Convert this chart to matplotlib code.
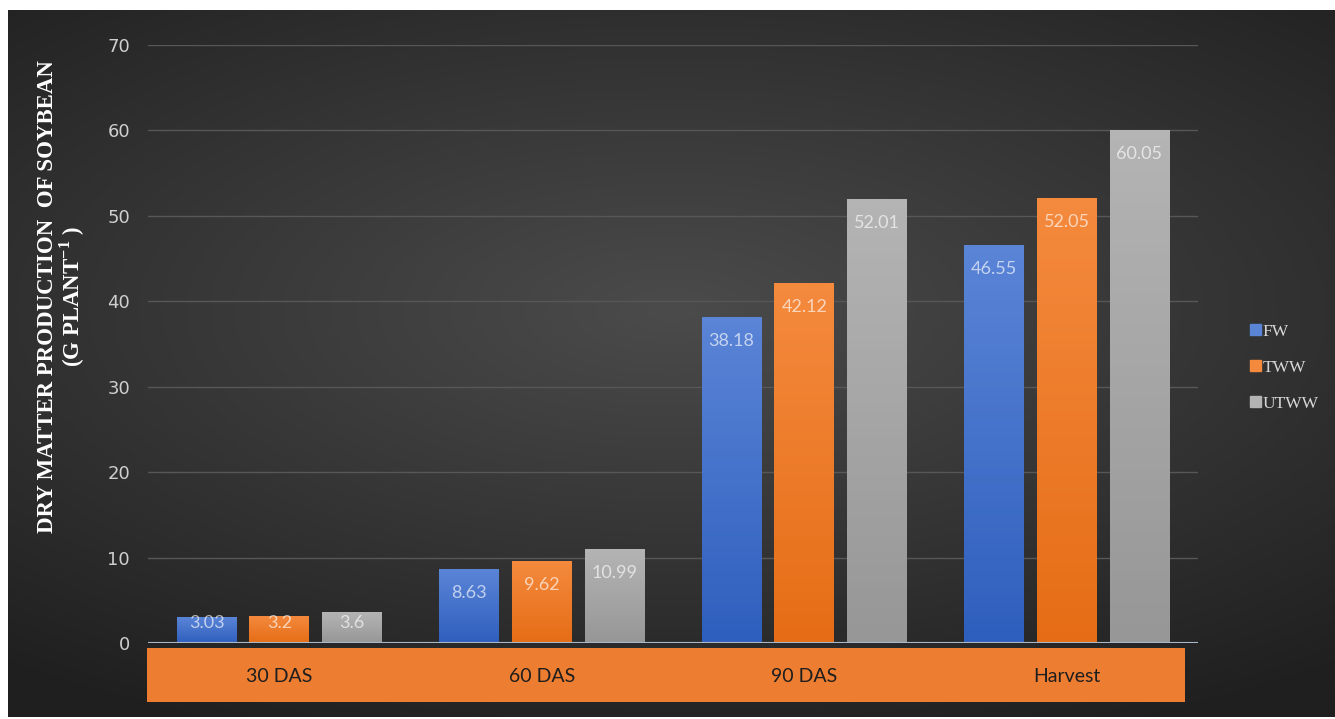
import numpy as np
import matplotlib
matplotlib.use("Agg")
import matplotlib.pyplot as plt
from matplotlib.colors import LinearSegmentedColormap

plt.rcParams["mathtext.fontset"] = "custom"
plt.rcParams["mathtext.rm"] = "Liberation Serif:bold"
plt.rcParams["mathtext.bf"] = "Liberation Serif:bold"

# data
stages = ["30 DAS", "60 DAS", "90 DAS", "Harvest"]
fw = [3.03, 8.63, 38.18, 46.55]
tww = [3.2, 9.62, 42.12, 52.05]
utww = [3.6, 10.99, 52.01, 60.05]
series_names = ["FW", "TWW", "UTWW"]
yticks = [0, 10, 20, 30, 40, 50, 60, 70]

# top / bottom colour of each bar gradient
grad = [("#5a84d6", "#2f5fbe"), ("#f48a3e", "#e66d16"), ("#b4b4b4", "#979797")]

fig = plt.figure(figsize=(13.35, 7.19), dpi=100)
fig.patch.set_facecolor("white")

# dark radial background
bg = fig.add_axes([8/1335, 2/719, 1327/1335, 707/719], zorder=-2)
bg.set_axis_off()
yy, xx = np.mgrid[-1:1:300j, -1:1:500j]
r = np.sqrt((xx*0.9)**2 + ((yy + 0.15)*1.1)**2)
bgmap = LinearSegmentedColormap.from_list("bg", ["#4b4b4b", "#353535", "#1f1f1f"])
bg.imshow(r, cmap=bgmap, aspect="auto", vmin=0, vmax=1.45, interpolation="bilinear")

# orange category band
band = fig.add_axes([147/1335, 17/719, 1038/1335, 54/719], zorder=-1)
band.set_facecolor("#ed7d31")
band.set_xticks([])
band.set_yticks([])
for s in band.spines.values():
    s.set_visible(False)

ax = fig.add_axes([148/1335, 1-643/719, 1050/1335, 598/719], zorder=1)
ax.patch.set_alpha(0)
ax.set_xlim(-0.5, 3.5)
ax.set_ylim(0, 70)
ax.set_yticks(yticks)
ax.grid(axis="y", color="#575757", lw=1)
ax.set_axisbelow(True)
for s in ax.spines.values():
    s.set_visible(False)
ax.axhline(0, color="#a9b8c8", lw=1.5, zorder=5)

px_per_unit = 598 / 70
x = np.arange(len(stages))
w = 0.228
off = 0.277
for i, (vals, name) in enumerate(zip([fw, tww, utww], series_names)):
    top, bot = grad[i]
    bars = ax.bar(x + (i-1)*off, vals, w, color=bot, label=name, zorder=3)
    cm = LinearSegmentedColormap.from_list("g%d" % i, [bot, top])
    for b, v in zip(bars, vals):
        x0, y0 = b.get_x(), b.get_y()
        im = ax.imshow(np.linspace(0, 1, 50).reshape(-1, 1), cmap=cm, origin="lower",
                       extent=[x0, x0 + b.get_width(), y0, y0 + b.get_height()],
                       aspect="auto", zorder=3.5)
        im.set_clip_path(b)
        # inside end, but never below ~20 px above the baseline
        drop = min(24, max(v*px_per_unit - 20, 0)) * 0.72
        ax.annotate(f"{v:g}", (b.get_x() + b.get_width()/2, v), xytext=(0, -drop),
                    textcoords="offset points", ha="center", va="center",
                    fontsize=13, color="white", alpha=0.65, family="Lato", zorder=6)

ax.set_xlim(-0.5, 3.5)
ax.set_ylim(0, 70)
ax.set_xticks(x)
ax.set_xticklabels(stages, fontsize=14, color="#1e1e1e", family="Lato")
ax.tick_params(axis="x", length=0, pad=18)
ax.tick_params(axis="y", length=0, pad=13, labelsize=13, labelcolor="#cfcfcf")

fig.text(62/1335, 0.587, "DRY MATTER PRODUCTION  OF SOYBEAN\n(G PLANT$^{-1}$ )",
         rotation=90, ha="center", va="center", multialignment="center",
         family="Liberation Serif", fontweight="bold", fontsize=16.5,
         color="white", linespacing=1.0)

leg = ax.legend(loc="center left", bbox_to_anchor=(1.035, 0.46), frameon=False,
                prop={"family": "Liberation Serif", "size": 12.5},
                handlelength=0.6, handleheight=0.6, handletextpad=0.1, labelspacing=1.15,
                labelcolor="#d8d8d8")
for h, (top, bot) in zip(leg.legend_handles, grad):
    h.set_color(top)

fig.savefig("out.png", dpi=100)
